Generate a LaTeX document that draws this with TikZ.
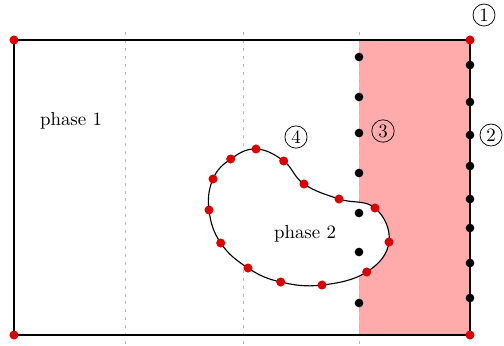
\documentclass[tikz,border=0pt]{standalone}
\usetikzlibrary{positioning}
\begin{document}
\begin{tikzpicture}[x=0.53pt,y=-0.53pt,
reddot/.style={circle,fill=red!85!black,inner sep=0pt,minimum size=4.8pt},
blackdot/.style={circle,fill=black,inner sep=0pt,minimum size=4.6pt},
num/.style={circle,draw,inner sep=1.2pt},
grid/.style={gray!55,thin,dash pattern=on 1.6pt off 2.6pt}]
\useasboundingbox (0,0) rectangle (504,345);
% domain and phase 3 region
\coordinate (C1) at (14,40);
\coordinate (C2) at (470,40);
\coordinate (C3) at (470,335);
\coordinate (C4) at (14,335);
\coordinate (P1) at (359,40);
\coordinate (P2) at (359,335);
\fill[red!33] (P1) rectangle (C3);
\foreach \x/\n in {125/a,243/b,359/c}{
  \coordinate (G\n1) at (\x,32);
  \coordinate (G\n2) at (\x,345);
  \draw[grid] (G\n1) -- (G\n2);
}
% interface
\draw[semithick,fill=white] plot[smooth cycle,tension=0.7] coordinates {(256,149) (283.7,161) (304,184) (339,199) (375,208) (389,242) (366.7,272) (322,285) (280.7,282) (248,268) (220.7,243) (209,210) (213,179) (230.7,159)};
\draw[semithick] (C1) -- (C2) -- (C3) -- (C4) -- cycle;
% markers
\foreach \y [count=\i] in {57,97,133,173,213,252,303}
  \node[blackdot] (L\i) at (359,\y) {};
\foreach \y [count=\i] in {65,102,135,166,199,228,263,298}
  \node[blackdot] (R\i) at (470,\y) {};
\foreach \p [count=\i] in {(256,149),(283.7,161),(304,184),(339,199),(375,208),(389,242),(366.7,272),(322,285),(280.7,282),(248,268),(220.7,243),(209,210),(213,179),(230.7,159)}
  \node[reddot] (B\i) at \p {};
\foreach \c in {C1,C2,C3,C4}
  \node[reddot] (D\c) at (\c) {};
% labels
\node (ph1) at (71,121) {phase 1};
\node (ph2) at (305,234) {phase 2};
\node[num] (n1) at (484,15) {1};
\node[num] (n2) at (491,135) {2};
\node[num] (n3) at (383,131) {3};
\node[num] (n4) at (296,137) {4};
\end{tikzpicture}
\end{document}
